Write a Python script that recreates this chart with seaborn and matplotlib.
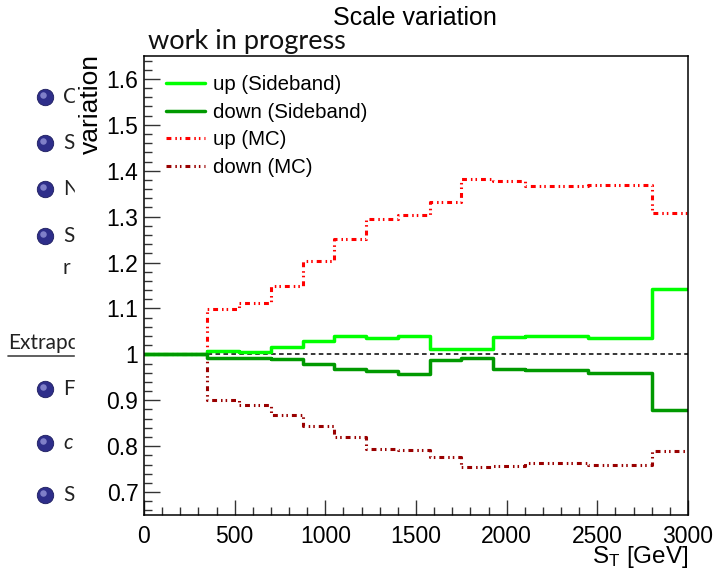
import numpy as np
import pandas as pd
import matplotlib
matplotlib.use("Agg")
import matplotlib.pyplot as plt
from matplotlib.patches import Rectangle
from matplotlib.ticker import MultipleLocator, FuncFormatter
import seaborn as sns

# bin edges in S_T [GeV] and the four ratio histograms (one value per bin)
st_edges = [0, 350, 525, 700, 875, 1050, 1225, 1400, 1575, 1750, 1925, 2100, 2450, 2800, 3000]
sideband_up = [1.000, 1.007, 1.005, 1.015, 1.029, 1.040, 1.035, 1.041, 1.011, 1.011, 1.038, 1.041, 1.036, 1.143]
sideband_down = [1.000, 0.993, 0.992, 0.989, 0.978, 0.968, 0.964, 0.957, 0.988, 0.992, 0.968, 0.965, 0.959, 0.879]
mc_up = [1.000, 1.098, 1.111, 1.149, 1.203, 1.252, 1.295, 1.304, 1.332, 1.381, 1.378, 1.367, 1.370, 1.308]
mc_down = [1.000, 0.900, 0.890, 0.868, 0.844, 0.819, 0.793, 0.792, 0.777, 0.755, 0.756, 0.764, 0.759, 0.790]

series_labels = ["up (Sideband)", "down (Sideband)", "up (MC)", "down (MC)"]

sns.set_theme(style="white")
plt.rcParams["font.family"] = ["Liberation Sans", "DejaVu Sans"]
plt.rcParams["mathtext.default"] = "regular"
plt.rcParams["text.color"] = "black"

fig = plt.figure(figsize=(7.16, 5.72), dpi=100)

# --- the slide behind the ROOT canvas (only a sliver is visible) ---
bg = fig.add_axes([0, 0, 1, 1], zorder=0)
bg.set_xlim(0, 716)
bg.set_ylim(572, 0)
bg.axis("off")
bullet_y = [97, 143, 189, 236, 389, 443, 495]
bg.scatter([45] * len(bullet_y), bullet_y, s=140, color="#2e2e8a", edgecolor="#1c1c5e", lw=0.6, zorder=2)
bg.scatter([43] * len(bullet_y), [y - 2 for y in bullet_y], s=22, color="#7f7fc8", lw=0, zorder=2)
for y, s in zip([97, 143, 189, 236, 268, 389, 443, 495], ["C", "S", "N", "S", "r", "F", "c", "S"]):
    bg.text(63, y, s, fontsize=15, va="center", ha="left", family="Lato", color="#222222",
            style="italic" if s == "c" else "normal")
bg.text(8, 343, "Extrapo", fontsize=15, va="center", ha="left", family="Lato", color="#222222")
bg.plot([8, 75], [356, 356], color="#444444", lw=1.2)
bg.add_patch(Rectangle((75, 0), 641, 572, color="white", zorder=5))

# --- main plot ---
ax = fig.add_axes([144 / 716, 1 - 515 / 572, 544 / 716, 459 / 572], zorder=1)
ax.set_facecolor("white")

ax.axhline(1.0, color="black", lw=1.1, ls=(0, (3, 2.2)), zorder=1)

dash_dot_dot = (0, (1.6, 1.3, 0.5, 1.0, 0.5, 1.3))
styles = [
    (mc_up, "#ff0000", dash_dot_dot, series_labels[2], 2.2),
    (mc_down, "#990000", dash_dot_dot, series_labels[3], 2.2),
    (sideband_up, "#00ff00", "-", series_labels[0], 2.5),
    (sideband_down, "#009900", "-", series_labels[1], 2.5),
]
for vals, col, ls, lab, width in styles:
    df = pd.DataFrame({"st": st_edges, "ratio": list(vals) + [vals[-1]]})
    sns.lineplot(data=df, x="st", y="ratio", drawstyle="steps-post", color=col, lw=width,
                 linestyle=ls, label=lab, errorbar=None, ax=ax, zorder=2)

ax.set_xlim(0, 3000)
ax.set_ylim(0.65, 1.65)
ax.set_xlabel("")
ax.set_ylabel("")

ax.xaxis.set_major_locator(MultipleLocator(500))
ax.xaxis.set_minor_locator(MultipleLocator(100))
ax.yaxis.set_major_locator(MultipleLocator(0.1))
ax.yaxis.set_minor_locator(MultipleLocator(0.02))
ax.yaxis.set_major_formatter(FuncFormatter(lambda v, p: f"{v:g}"))
ax.tick_params(which="both", direction="in", left=True, bottom=True, top=False, right=False,
               colors="#333333", labelcolor="black", labelsize=16.5)
ax.tick_params(axis="y", which="major", length=11.5, width=1.0, pad=4)
ax.tick_params(axis="y", which="minor", length=6, width=1.0)
ax.tick_params(axis="x", which="major", length=11, width=1.0, pad=7)
ax.tick_params(axis="x", which="minor", length=5.5, width=1.0)
for sp in ax.spines.values():
    sp.set_color("black")
    sp.set_linewidth(1.1)

handles, labels = ax.get_legend_handles_labels()
order = [labels.index(l) for l in series_labels]
ax.legend([handles[i] for i in order], [labels[i] for i in order], loc="upper left",
          bbox_to_anchor=(0.040, 0.958), frameon=False, fontsize=14.7, handlelength=1.9,
          handletextpad=0.4, labelspacing=0.42, borderpad=0, borderaxespad=0)

fig.text(415 / 716, 1 - 18 / 572, "Scale variation", ha="center", va="center", fontsize=18)
fig.text(148 / 716, 1 - 41 / 572, "work in progress", ha="left", va="center", fontsize=19.5,
         family="Lato", color="#111111")
fig.text(91 / 716, 1 - 54 / 572, "variation", rotation=90, ha="center", va="top", fontsize=19)
fig.text(688 / 716, 1 - 557 / 572, "S$_{T}$ [GeV]", ha="right", va="center", fontsize=17.5)

fig.savefig("out.png", dpi=100)
